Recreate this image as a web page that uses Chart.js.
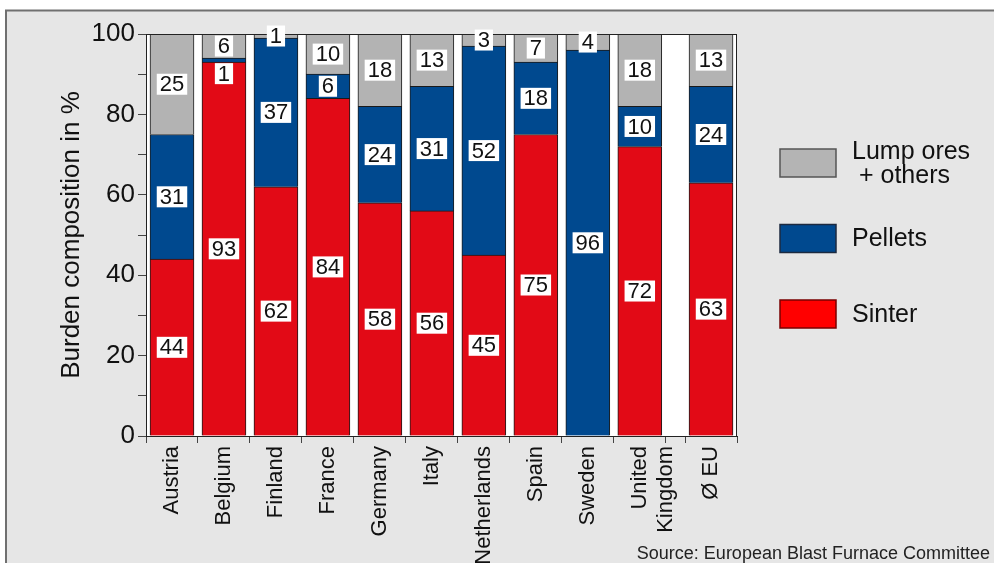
<!DOCTYPE html>
<html>
<head>
<meta charset="utf-8">
<script src="https://cdn.jsdelivr.net/npm/chart.js@4.4.1/dist/chart.umd.min.js"></script>
<style>
	html, body { margin: 0; padding: 0; background: #fff; }
	#wrap { width: 994px; height: 563px; }
</style>
</head>
<body>
<div id="wrap"><canvas id="burdenChart"></canvas></div>
<script>
const countries = ['Austria', 'Belgium', 'Finland', 'France', 'Germany', 'Italy', 'Netherlands', 'Spain', 'Sweden', ['United', 'Kingdom'], 'Ø EU'];
const sinter = [44, 93, 62, 84, 58, 56, 45, 75, 0, 72, 63];
const pellets = [31, 1, 37, 6, 24, 31, 52, 18, 96, 10, 24];
const lumpOres = [25, 6, 1, 10, 18, 13, 3, 7, 4, 18, 13];
const yTicks = [0, 20, 40, 60, 80, 100];
const seriesNames = [['Sinter'], ['Pellets'], ['Lump ores', ' + others']];

const FONT = '"Liberation Sans", Arial, Helvetica, sans-serif';
Chart.defaults.font.family = FONT;
Chart.defaults.color = '#111';

// the EU average bar sits a bit apart from the countries
const GAP = 0.37;
const avgIndex = countries.length - 1;
const slotPos = i => i + (i >= avgIndex ? GAP : 0);
const series = values => values.map((v, i) => ({ x: slotPos(i), y: v }));

const legendFill = ['#ff0000', '#00498f', '#b4b4b4'];
const legendStroke = ['#7a0000', '#1c2a40', '#555'];

const background = {
	id: 'background',
	beforeDraw(chart) {
		const { ctx, width, height, chartArea: a } = chart;
		ctx.save();
		ctx.fillStyle = '#fff';
		ctx.fillRect(0, 0, width, height);
		ctx.fillStyle = '#e6e6e6';
		ctx.fillRect(6, 10, width, height);
		ctx.strokeStyle = '#707070';
		ctx.lineWidth = 2;
		ctx.beginPath();
		ctx.moveTo(6, height);
		ctx.lineTo(6, 10.5);
		ctx.lineTo(width, 10.5);
		ctx.stroke();
		ctx.fillStyle = '#fff';
		ctx.fillRect(a.left, a.top, a.right - a.left, a.bottom - a.top);
		ctx.restore();
	}
};

const segmentLabels = {
	id: 'segmentLabels',
	afterDatasetsDraw(chart) {
		const { ctx, chartArea: a } = chart;
		ctx.save();
		ctx.strokeStyle = '#222';
		ctx.lineWidth = 1;
		ctx.strokeRect(a.left + 0.5, a.top + 0.5, a.right - a.left - 1, a.bottom - a.top);

		ctx.font = '22px ' + FONT;
		ctx.textAlign = 'center';
		ctx.textBaseline = 'middle';
		const boxH = 21;
		countries.forEach((_, i) => {
			let prevBottom = -Infinity;
			for (let d = chart.data.datasets.length - 1; d >= 0; d--) {
				const value = chart.data.datasets[d].data[i].y;
				if (!value) continue;
				const p = chart.getDatasetMeta(d).data[i].getProps(['x', 'y', 'base'], true);
				const text = String(value);
				const w = ctx.measureText(text).width + 6;
				let top = (p.y + p.base) / 2 - boxH / 2;
				if (top < prevBottom) top = p.base + 1;
				ctx.fillStyle = '#fff';
				ctx.fillRect(p.x - w / 2, top, w, boxH);
				ctx.fillStyle = '#111';
				ctx.fillText(text, p.x, top + boxH / 2 + 1);
				prevBottom = top + boxH;
			}
		});
		ctx.restore();
	}
};

const sideLegend = {
	id: 'sideLegend',
	afterDraw(chart) {
		const { ctx, chartArea: a, width, height } = chart;
		ctx.save();
		ctx.font = '25px ' + FONT;
		ctx.textAlign = 'left';
		ctx.textBaseline = 'middle';
		for (let k = 0; k < seriesNames.length; k++) {
			const d = seriesNames.length - 1 - k;
			const cy = a.top + 129 + k * 75.5;
			const bx = a.right + 43;
			ctx.fillStyle = legendFill[d];
			ctx.fillRect(bx, cy - 14, 56, 28);
			ctx.strokeStyle = legendStroke[d];
			ctx.lineWidth = 1.5;
			ctx.strokeRect(bx, cy - 14, 56, 28);
			const lines = seriesNames[d];
			ctx.fillStyle = '#111';
			lines.forEach((line, j) => {
				ctx.fillText(line, bx + 72, cy + (j - (lines.length - 1) / 2) * 24 + 1);
			});
		}
		ctx.font = '18px ' + FONT;
		ctx.textAlign = 'right';
		ctx.textBaseline = 'alphabetic';
		ctx.fillStyle = '#222';
		ctx.fillText('Source: European Blast Furnace Committee', width - 4, height - 4);
		ctx.restore();
	}
};

const ctx = document.getElementById('burdenChart').getContext('2d');
new Chart(ctx, {
	type: 'bar',
	data: {
		datasets: [{
			label: seriesNames[0].join(' '),
			data: series(sinter),
			backgroundColor: '#e20a16'
		}, {
			label: seriesNames[1].join(' '),
			data: series(pellets),
			backgroundColor: '#00498f'
		}, {
			label: seriesNames[2].join(' '),
			data: series(lumpOres),
			backgroundColor: '#b3b3b3'
		}]
	},
	options: {
		responsive: true,
		maintainAspectRatio: false,
		animation: false,
		layout: { padding: { top: 34, right: 257, bottom: 0, left: 0 } },
		datasets: {
			bar: { barThickness: 44, borderColor: '#1a1a1a', borderWidth: 1 }
		},
		plugins: {
			legend: { display: false },
			tooltip: { enabled: false }
		},
		scales: {
			x: {
				type: 'linear',
				stacked: true,
				offset: false,
				min: -0.5,
				max: slotPos(avgIndex) + 0.5,
				afterBuildTicks: scale => {
					const ticks = [];
					countries.forEach((name, i) => {
						const c = slotPos(i);
						const last = ticks[ticks.length - 1];
						if (!last || Math.abs(last.value - (c - 0.5)) > 1e-6) ticks.push({ value: c - 0.5, edge: true });
						ticks.push({ value: c, name: name });
						ticks.push({ value: c + 0.5, edge: true });
					});
					scale.ticks = ticks;
				},
				afterFit: scale => { scale.height = 127; },
				ticks: {
					autoSkip: false,
					minRotation: 90,
					maxRotation: 90,
					padding: 3,
					font: { size: 22 },
					color: '#111',
					callback: (value, index, ticks) => ticks[index].name || ''
				},
				grid: {
					offset: false,
					drawOnChartArea: false,
					tickLength: 7,
					tickColor: c => (c.tick && c.tick.edge) ? '#444' : 'rgba(0,0,0,0)'
				},
				border: { color: '#222' }
			},
			y: {
				stacked: true,
				min: 0,
				max: 100,
				afterFit: scale => { scale.width = 146; },
				ticks: {
					stepSize: 10,
					autoSkip: false,
					padding: 3,
					font: { size: 26 },
					color: '#111',
					callback: value => yTicks.includes(value) ? value : ''
				},
				grid: { drawOnChartArea: false, tickLength: 8, tickColor: '#444' },
				border: { color: '#222' },
				title: {
					display: true,
					text: 'Burden composition in %',
					font: { size: 26 },
					color: '#111',
					padding: { top: 56, bottom: 0 }
				}
			}
		}
	},
	plugins: [background, segmentLabels, sideLegend]
});
</script>
</body>
</html>
